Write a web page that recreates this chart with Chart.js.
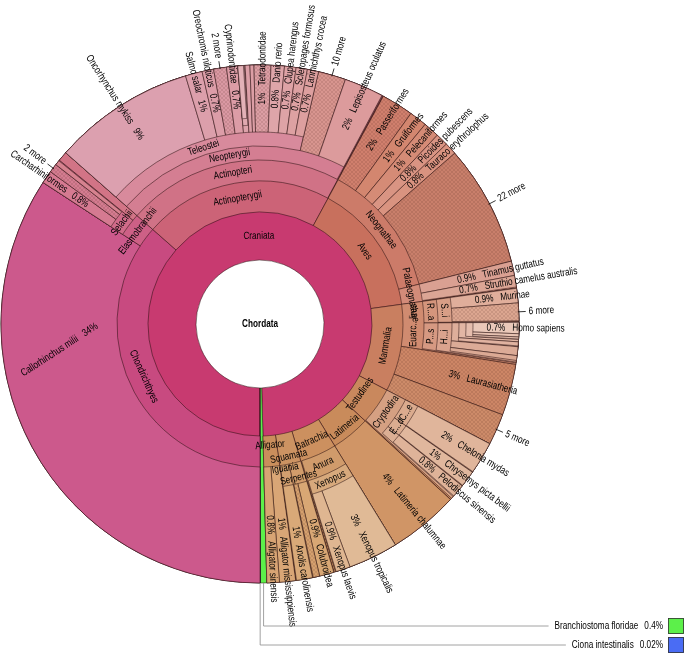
<!DOCTYPE html>
<html>
<head>
<meta charset="utf-8">
<script src="https://cdn.jsdelivr.net/npm/chart.js@4.4.1/dist/chart.umd.min.js"></script>
<style>
  html, body { margin: 0; background: #fff; }
  #wrap { position: relative; width: 685px; height: 655px; }
</style>
</head>
<body>
<div id="wrap"><canvas id="krona" width="685" height="655"></canvas></div>
<script>
// taxonomy tree, percent of all reads
const ROOT = "Chordata"
const taxa = [
  "Craniata", "Branchiostoma floridae", "Ciona intestinalis",
  // cartilaginous fish
  "Chondrichthyes", "Callorhinchus milii", "Elasmobranchii", "Selachii", "Carcharhiniformes", "Selachii (other)", "Squaliformes", "Batoidea",
  // ray-finned fish
  "Actinopterygii", "Actinopteri", "Neopterygii", "Teleostei", "Oncorhynchus mykiss", "Salmo salar", "Oreochromis niloticus", "Teleostei (other)",
  "Cyprinodontidae", "Poeciliidae", "Poecilia", "Poecilia formosa", "Fundulidae", "Gasterosteidae", "Tetraodontidae", "Danio rerio",
  "Clupea harengus", "Scleropages formosus", "Larimichthys crocea", "Neopterygii (other)", "Lepisosteus oculatus",
  // birds
  "Aves", "Neognathae", "Passeriformes", "Gruiformes", "Pelecaniformes", "Picoides pubescens", "Tauraco erythrolophus", "Neognathae (other)",
  "Palaeognathae", "Tinamus guttatus", "Struthio camelus australis",
  // mammals
  "Mammalia", "Euarchontoglires", "Rodentia", "Sciurognathi", "Murinae", "Sciurognathi (other)", "Primates", "Haplorrhini", "Catarrhini",
  "Hominoidea", "Hominidae", "Homo sapiens", "Pan troglodytes", "Gorilla gorilla", "Cercopithecidae", "Platyrrhini", "Tarsius syrichta",
  "Laurasiatheria", "Mammalia (other)",
  // turtles
  "Testudines", "Cryptodira", "Cheloniidae", "Chelonia mydas", "Emydidae", "Chrysemys picta bellii", "Trionychidae", "Pelodiscus sinensis",
  // coelacanth, frogs, squamates, alligators
  "Latimeria", "Latimeria chalumnae",
  "Batrachia", "Anura", "Xenopus", "Xenopus tropicalis", "Xenopus laevis",
  "Squamata", "Serpentes", "Colubroidea", "Serpentes (other)", "Iguania", "Anolis carolinensis",
  "Alligator", "Alligator mississippiensis", "Alligator sinensis",
]
const parents = [
  "Chordata", "Chordata", "Chordata",
  "Craniata", "Chondrichthyes", "Chondrichthyes", "Elasmobranchii", "Selachii", "Selachii", "Selachii", "Elasmobranchii",
  "Craniata", "Actinopterygii", "Actinopteri", "Neopterygii", "Teleostei", "Teleostei", "Teleostei", "Teleostei",
  "Teleostei", "Teleostei", "Poeciliidae", "Poecilia", "Teleostei", "Teleostei", "Teleostei", "Teleostei",
  "Teleostei", "Teleostei", "Teleostei", "Neopterygii", "Neopterygii",
  "Craniata", "Aves", "Neognathae", "Neognathae", "Neognathae", "Neognathae", "Neognathae", "Neognathae",
  "Aves", "Palaeognathae", "Palaeognathae",
  "Craniata", "Mammalia", "Euarchontoglires", "Rodentia", "Sciurognathi", "Sciurognathi", "Euarchontoglires", "Primates", "Haplorrhini",
  "Catarrhini", "Hominoidea", "Hominidae", "Hominidae", "Hominidae", "Catarrhini", "Haplorrhini", "Haplorrhini",
  "Mammalia", "Mammalia",
  "Craniata", "Testudines", "Cryptodira", "Cheloniidae", "Cryptodira", "Emydidae", "Cryptodira", "Trionychidae",
  "Craniata", "Latimeria",
  "Craniata", "Batrachia", "Anura", "Xenopus", "Xenopus",
  "Craniata", "Squamata", "Serpentes", "Serpentes", "Squamata", "Iguania",
  "Craniata", "Alligator", "Alligator",
]
const percents = [
  99.58, 0.4, 0.02,
  36.5, 34.2, 2.3, 1.7, 0.8, 0.55, 0.3, 0.6,
  21.4, 21.35, 21.3, 17.13, 8.86, 1.05, 0.72, 0.8,
  0.7, 0.45, 0.4, 0.35, 0.3, 0.25, 1.05, 0.83,
  0.72, 0.7, 0.7, 1.72, 2.45,
  14.9, 13.2, 2.0, 1.1, 1.0, 0.78, 0.76, 7.56,
  1.7, 0.9, 0.72,
  9.85, 4.7, 2.1, 2.05, 0.9, 1.1, 2.5, 2.45, 1.5,
  1.2, 1.05, 0.7, 0.2, 0.12, 0.25, 0.55, 0.3,
  3.2, 1.95,
  4.2, 4.1, 2.05, 2.0, 1.05, 1.0, 0.85, 0.8,
  4.4, 4.4,
  4.15, 4.05, 4.0, 3.1, 0.9,
  2.4, 1.35, 0.9, 0.4, 1.0, 1.0,
  1.78, 1.0, 0.78,
]
// text shown in the chart ("" = no label)
const labels = [
  "Craniata", "Branchiostoma floridae", "Ciona intestinalis",
  "Chondrichthyes", "Callorhinchus milii", "Elasmobranchii", "Selachii", "Carcharhiniformes", "2 more", "", "",
  "Actinopterygii", "Actinopteri", "Neopterygii", "Teleostei", "Oncorhynchus mykiss", "Salmo salar", "Oreochromis niloticus", "2 more",
  "Cyprinodontidae", "", "", "", "", "", "Tetraodontidae", "Danio rerio",
  "Clupea harengus", "Scleropages formosus", "Larimichthys crocea", "10 more", "Lepisosteus oculatus",
  "Aves", "Neognathae", "Passeriformes", "Gruiformes", "Pelecaniformes", "Picoides pubescens", "Tauraco erythrolophus", "22 more",
  "Palaeognathae", "Tinamus guttatus", "Struthio camelus australis",
  "Mammalia", "Euarc...lires", "R...a", "S...i", "Murinae", "6 more", "P...s", "H...i", "",
  "", "", "Homo sapiens", "", "", "", "", "",
  "Laurasiatheria", "5 more",
  "Testudines", "Cryptodira", "C...e", "Chelonia mydas", "E...d", "Chrysemys picta bellii", "", "Pelodiscus sinensis",
  "Latimeria", "Latimeria chalumnae",
  "Batrachia", "Anura", "Xenopus", "Xenopus tropicalis", "Xenopus laevis",
  "Squamata", "Serpentes", "Colubroidea", "", "Iguania", "Anolis carolinensis",
  "Alligator", "Alligator mississippiensis", "Alligator sinensis",
]
const fills = [
  "#c83a70", "#5cf04a", "#4a6cf4",
  "#c84a80", "#cc598c", "#cd6086", "#d06b89", "#d57a91", "#d47c90", "#d6828f", "#d27486",
  "#cc6377", "#d07286", "#d47e92", "#d88a9c", "#dca0af", "#dc9fab", "#dc9da8", "#da98a3",
  "#dc9ca6", "#dda2aa", "#e0a9b0", "#e3b1b7", "#dc9fa7", "#dc9ea5", "#dc9ea4", "#dea5a9",
  "#dea3a6", "#dda1a2", "#dd9f9f", "#d8958f", "#dc9b9c",
  "#c8705d", "#cc7b69", "#d07f6d", "#d3866f", "#d58b76", "#d99483", "#d99380", "#c97f6b",
  "#d38b79", "#daa092", "#dba595",
  "#c97f60", "#d08b70", "#d4957c", "#d89e86", "#e0ae9b", "#dca690", "#d69982", "#daa38e", "#deae9b",
  "#e2b6a4", "#e5bdad", "#eac8b9", "#e8c3b3", "#e7c0b0", "#e0b2a0", "#dcab97", "#dba994",
  "#cd8666", "#cd8b69",
  "#c9885d", "#d5a082", "#dbab8e", "#e0b59b", "#dbac90", "#e0b79d", "#dcaf94", "#dfb399",
  "#c98b5b", "#d09566",
  "#cc905f", "#d09b6b", "#d7a97c", "#e0ba96", "#dfb691",
  "#cc9362", "#d29c6b", "#d8a774", "#d5a06e", "#d39f6f", "#d9a978",
  "#ca8e5c", "#d9a676", "#d8a474",
]
const hatchedTaxa = ["Selachii (other)", "Teleostei (other)", "Tetraodontidae", "Neopterygii (other)", "Passeriformes",
  "Neognathae (other)", "Sciurognathi (other)", "Laurasiatheria", "Mammalia (other)", "Serpentes (other)"]
const keyedTaxa = ["Branchiostoma floridae", "Ciona intestinalis"]

// layout
const HOLE_R = 64
const OUTER_R = 259
const ringWidths = [48, 31, 21, 14, 14, 7, 7, 7, 7]
const labelNudge = { Alligator: -6, Squamata: 8, Iguania: -7, Serpentes: 5, Latimeria: 6, Testudines: -5 }
// label spots that Krona moved off the wedge middle (degrees clockwise from the bottom)
const labelPlace = { "Callorhinchus milii": { theta: 88, turn: 57, r: 170 } }
const FS = 10.5
const SQUEEZE = 0.78
const FONT = FS + 'px "Liberation Sans", Arial, sans-serif'
const BORDER = "rgba(40,15,15,0.75)"
const CLEAR = "rgba(0,0,0,0)"

// build tree positions
const kids = {}
taxa.forEach((t, i) => { (kids[parents[i]] = kids[parents[i]] || []).push(i) })
const depth = [], start = []
function place(key, d, s) {
  ;(kids[key] || []).forEach((i) => {
    depth[i] = d
    start[i] = s
    place(taxa[i], d + 1, s)
    s += percents[i]
  })
}
place(ROOT, 1, 0)
const TOTAL = (kids[ROOT] || []).reduce((a, i) => a + percents[i], 0)
const maxDepth = Math.max(...depth)

function hatch(color) {
  const c = document.createElement("canvas")
  c.width = c.height = 4
  const g = c.getContext("2d")
  g.fillStyle = color
  g.fillRect(0, 0, 4, 4)
  g.strokeStyle = "rgba(70,30,25,0.16)"
  g.lineWidth = 0.8
  g.beginPath()
  g.moveTo(0, 4); g.lineTo(4, 0)
  g.moveTo(0, 0); g.lineTo(4, 4)
  g.stroke()
  return g.createPattern(c, "repeat")
}

function ring(d) {
  const nodes = taxa.map((t, i) => i).filter((i) => depth[i] === d).sort((a, b) => start[a] - start[b])
  const ds = { data: [], nodeIdx: [], backgroundColor: [], borderWidth: [], borderColor: BORDER, weight: ringWidths[d - 1] }
  const gap = (v) => { ds.data.push(v); ds.nodeIdx.push(-1); ds.backgroundColor.push(CLEAR); ds.borderWidth.push(0) }
  let at = 0
  nodes.forEach((i) => {
    if (start[i] - at > 1e-6) gap(start[i] - at)
    ds.data.push(percents[i])
    ds.nodeIdx.push(i)
    ds.backgroundColor.push(hatchedTaxa.includes(taxa[i]) ? hatch(fills[i]) : fills[i])
    ds.borderWidth.push(0.7)
    at = start[i] + percents[i]
  })
  if (TOTAL - at > 1e-6) gap(TOTAL - at)
  return ds
}

const datasets = [{
  data: [TOTAL], nodeIdx: [-1], backgroundColor: [CLEAR], borderWidth: 0,
  weight: OUTER_R - HOLE_R - ringWidths.reduce((a, b) => a + b, 0),
}]
for (let d = maxDepth; d >= 1; d--) datasets.push(ring(d))

function fmt(v) {
  if (v >= 1) return Math.round(v) + "%"
  if (v >= 0.1) return v.toFixed(1) + "%"
  return v.toFixed(2) + "%"
}

// every node reaches the outer edge, children are painted over it
const extendArcs = {
  id: "extendArcs",
  afterDatasetsUpdate(chart) {
    const R = chart.getDatasetMeta(0).controller.outerRadius
    chart.data.datasets.forEach((ds, i) => {
      chart.getDatasetMeta(i).data.forEach((arc, j) => {
        if (ds.nodeIdx[j] >= 0) arc.outerRadius = R
      })
    })
  },
}

function put(ctx, txt, x, y, rot, align) {
  ctx.save()
  ctx.translate(x, y)
  ctx.rotate(rot)
  ctx.scale(SQUEEZE, 1)
  ctx.textAlign = align
  ctx.fillText(txt, 0, 0)
  ctx.restore()
}

const kronaLabels = {
  id: "kronaLabels",
  afterDraw(chart) {
    const ctx = chart.ctx
    const R = chart.getDatasetMeta(0).controller.outerRadius
    const tw = (t) => ctx.measureText(t).width * SQUEEZE
    ctx.save()
    ctx.font = FONT
    ctx.fillStyle = "#000"
    ctx.strokeStyle = "#000"
    ctx.lineWidth = 0.8
    ctx.textBaseline = "middle"
    let cx = 0, cy = 0
    const keyed = []
    chart.data.datasets.forEach((ds, di) => {
      const meta = chart.getDatasetMeta(di)
      const ctrl = meta.controller
      meta.data.forEach((arc, j) => {
        const n = ds.nodeIdx[j]
        if (n < 0) return
        cx = arc.x; cy = arc.y
        let a = (arc.startAngle + arc.endAngle) / 2
        a = Math.atan2(Math.sin(a), Math.cos(a))
        const at = (r) => [cx + r * Math.cos(a), cy + r * Math.sin(a)]
        if (keyedTaxa.includes(taxa[n])) { keyed.push({ n, p: at(R) }); return }
        const txt = labels[n]
        if (!txt) return
        if (kids[taxa[n]]) {
          // inner node: tangential label
          const rc = (ctrl.innerRadius + ctrl.outerRadius) / 2 + (labelNudge[txt] || 0)
          const rot = Math.sin(a) > 0 ? a - Math.PI / 2 : a + Math.PI / 2
          put(ctx, txt, ...at(rc), rot, "center")
        } else if (/^\d+ more$/.test(txt)) {
          const right = Math.cos(a) >= 0
          const p0 = at(R - 1), p1 = at(R + 7)
          ctx.beginPath(); ctx.moveTo(...p0); ctx.lineTo(...p1); ctx.stroke()
          put(ctx, txt, ...at(R + 10), right ? a : a + Math.PI, right ? "left" : "right")
        } else {
          // leaf: radial label, percent in the middle, name outward
          const pct = fmt(percents[n])
          let rMid = (ctrl.innerRadius + R) / 2
          let turn = a
          const spot = labelPlace[taxa[n]]
          if (spot) {
            a = Math.PI / 2 + spot.theta * Math.PI / 180
            turn = Math.PI / 2 + spot.turn * Math.PI / 180
            rMid = spot.r
          }
          const right = Math.cos(turn) >= 0
          const rot = right ? turn : turn + Math.PI
          const p = at(rMid)
          const off = tw(pct) / 2 + 7
          put(ctx, pct, p[0], p[1], rot, "center")
          put(ctx, txt, p[0] + off * Math.cos(turn), p[1] + off * Math.sin(turn), rot, right ? "left" : "right")
        }
      })
    })
    // tiny nodes listed in a key at the bottom right
    const KEY_Y = [626, 645], KEY_RIGHT = 663, SWATCH_X = 668
    keyed.forEach(({ n, p }, k) => {
      const y = KEY_Y[k]
      const pct = fmt(percents[n])
      const pw = tw(pct)
      const nameRight = KEY_RIGHT - pw - 6
      const nameLeft = nameRight - tw(labels[n])
      put(ctx, pct, KEY_RIGHT, y, 0, "right")
      put(ctx, labels[n], nameRight, y, 0, "right")
      ctx.strokeStyle = "#8a8a8a"
      ctx.lineWidth = 0.8
      ctx.beginPath(); ctx.moveTo(p[0], p[1]); ctx.lineTo(p[0], y); ctx.lineTo(nameLeft - 6, y); ctx.stroke()
      ctx.fillStyle = fills[n]
      ctx.fillRect(SWATCH_X, y - 8, 16, 16)
      ctx.strokeStyle = "#333"
      ctx.strokeRect(SWATCH_X + 0.5, y - 7.5, 15, 15)
      ctx.fillStyle = "#000"
    })
    ctx.font = "bold " + FONT
    put(ctx, ROOT, cx, cy, 0, "center")
    ctx.restore()
  },
}

new Chart(document.getElementById("krona"), {
  type: "doughnut",
  data: { datasets },
  options: {
    responsive: false,
    animation: false,
    events: [],
    rotation: 180,
    cutout: HOLE_R,
    layout: { padding: { left: 1, top: 65, right: 166, bottom: 72 } },
    plugins: { legend: { display: false }, tooltip: { enabled: false } },
  },
  plugins: [extendArcs, kronaLabels],
})
</script>
</body>
</html>
